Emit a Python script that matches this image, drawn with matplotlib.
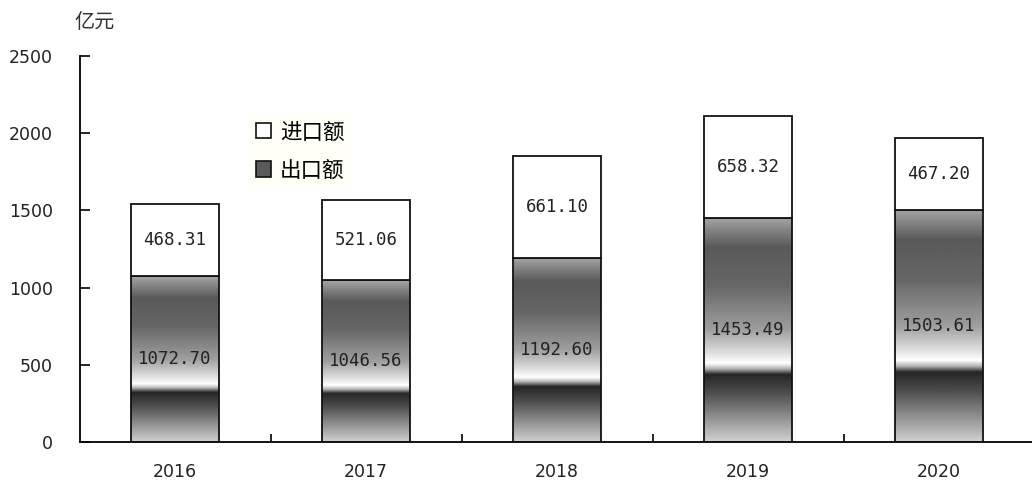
import numpy as np
import matplotlib
matplotlib.use('Agg')
import matplotlib.pyplot as plt
from matplotlib.patches import Patch

plt.rcParams['font.family'] = ['Noto Sans CJK SC', 'DejaVu Sans']

years = ['2016', '2017', '2018', '2019', '2020']
export_vals = [1072.70, 1046.56, 1192.60, 1453.49, 1503.61]   # 出口额
import_vals = [468.31, 521.06, 661.10, 658.32, 467.20]        # 进口额

fig = plt.figure(figsize=(10.32, 4.84), dpi=100)
ax = fig.add_axes([79.5 / 1032, 42 / 484, 955 / 1032, 386 / 484])

x = np.arange(len(years))
width = 0.46

# gray gradient used for the export bars (top -> bottom)
t_stops = [0.0, 0.13, 0.30, 0.50, 0.60, 0.65, 0.675, 0.70, 0.78, 1.0]
g_stops = [0.65, 0.35, 0.40, 0.62, 0.86, 1.0, 0.70, 0.15, 0.30, 0.82]
tt = np.linspace(0, 1, 300)
grad = np.interp(tt, t_stops, g_stops).reshape(-1, 1)

for xi, ev in zip(x, export_vals):
    ax.imshow(grad, extent=[xi - width / 2, xi + width / 2, 0, ev], origin='upper',
              aspect='auto', cmap='gray', vmin=0, vmax=1, zorder=2,
              interpolation='bilinear')

ax.bar(x, export_vals, width, fill=False, edgecolor='#111111', linewidth=1.3, zorder=3)
ax.bar(x, import_vals, width, bottom=export_vals, facecolor='white',
       edgecolor='#111111', linewidth=1.3, zorder=3)

for xi, ev, iv in zip(x, export_vals, import_vals):
    ax.text(xi, ev / 2, f'{ev:.2f}', ha='center', va='center', fontsize=12.5,
            family='DejaVu Sans Mono', color='#222222', zorder=4)
    ax.text(xi, ev + iv / 2, f'{iv:.2f}', ha='center', va='center', fontsize=12.5,
            family='DejaVu Sans Mono', color='#222222', zorder=4)

ax.set_xlim(-0.5, 4.5)
ax.set_ylim(0, 2500)
ax.set_yticks([0, 500, 1000, 1500, 2000, 2500])
ax.tick_params(axis='y', direction='in', length=7, width=1.2, pad=19,
               labelsize=12.5, labelcolor='#222222')
ax.set_xticks([0.5, 1.5, 2.5, 3.5])
ax.set_xticklabels([])
ax.tick_params(axis='x', which='major', direction='in', length=6, width=1.2)
ax.set_xticks(x, minor=True)
ax.set_xticklabels(years, minor=True)
ax.tick_params(axis='x', which='minor', length=0, pad=15, labelsize=12.5,
               labelcolor='#222222')
for lbl in ax.get_yticklabels() + ax.get_xticklabels(minor=True):
    lbl.set_family('DejaVu Sans')

ax.spines['top'].set_visible(False)
ax.spines['right'].set_visible(False)
ax.spines['left'].set_linewidth(1.3)
ax.spines['bottom'].set_linewidth(1.3)

fig.text(95 / 1032, 1 - 22 / 484, '亿元', ha='center', va='center', fontsize=14.5,
         color='#333333')

handles = [Patch(facecolor='white', edgecolor='#111111', linewidth=1.2),
           Patch(facecolor='#5a5a5a', edgecolor='#111111', linewidth=1.2)]
leg = ax.legend(handles, ['进口额', '出口额'], loc='upper left',
                bbox_to_anchor=(251 / 1032, 1 - 116 / 484), bbox_transform=fig.transFigure,
                frameon=True, fontsize=15.5, handlelength=0.7, handleheight=0.7,
                handletextpad=0.4, labelspacing=0.75, borderpad=0.25, borderaxespad=0)
leg.get_frame().set_facecolor('#fffff6')
leg.get_frame().set_edgecolor('none')

fig.savefig('out.png', dpi=100)
